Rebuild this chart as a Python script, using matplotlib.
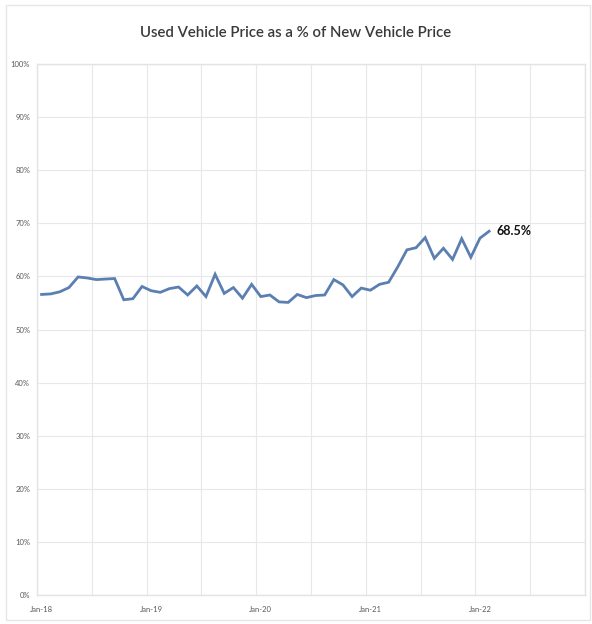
import matplotlib
matplotlib.use("Agg")
import matplotlib.pyplot as plt
import matplotlib.patches as mpatches
import numpy as np

plt.rcParams['font.family'] = ['Liberation Sans Narrow', 'Lato', 'DejaVu Sans']

# Monthly data Jan-2018 .. Feb-2022 (percent)
months = [f"{m}-{y}" for y in range(18, 23) for m in
          ["Jan", "Feb", "Mar", "Apr", "May", "Jun", "Jul", "Aug", "Sep", "Oct", "Nov", "Dec"]][:50]
values = [56.6, 56.7, 57.1, 57.9, 59.9, 59.7, 59.4, 59.5, 59.6, 55.6,
          55.8, 58.1, 57.3, 57.0, 57.7, 58.0, 56.5, 58.2, 56.2, 60.4,
          56.8, 57.9, 55.9, 58.5, 56.2, 56.5, 55.2, 55.1, 56.6, 56.0,
          56.4, 56.5, 59.4, 58.4, 56.2, 57.8, 57.4, 58.5, 58.9, 61.8,
          65.0, 65.4, 67.3, 63.4, 65.3, 63.2, 67.1, 63.6, 67.2, 68.5]
year_labels = ["Jan-18", "Jan-19", "Jan-20", "Jan-21", "Jan-22"]
y_ticks = list(range(0, 101, 10))
last_label = "68.5%"
title = "Used Vehicle Price as a % of New Vehicle Price"

W, H = 592, 624
fig = plt.figure(figsize=(W / 100, H / 100), dpi=100)

# outer chart-area frame
fig.patches.append(mpatches.Rectangle((6 / W, 1 - 620 / H), (590 - 6) / W, (620 - 5) / H,
                                      transform=fig.transFigure, fill=False,
                                      edgecolor="#e6e6e6", linewidth=1.0))

left, right, top, bottom = 37, 585, 64, 595
ax = fig.add_axes([left / W, 1 - bottom / H, (right - left) / W, (bottom - top) / H])

x = np.arange(len(values))
ax.plot(x, values, color="#5b7fb0", linewidth=2.0, solid_joinstyle="miter")

ax.set_xlim(-0.5, 59.5)
ax.set_ylim(0, 100)
ax.set_yticks(y_ticks)
ax.set_yticklabels([f"{v}%" for v in y_ticks])
ax.set_xticks(np.arange(-0.5, 60, 6), minor=False)
ax.set_xticklabels([])
ax.set_xticks(np.arange(0, 60, 12), minor=True)
ax.set_xticklabels(year_labels, minor=True)
ax.tick_params(axis="both", which="both", length=0, labelsize=5.5, colors="#595959")
ax.tick_params(axis="x", which="minor", pad=8)
ax.tick_params(axis="y", pad=5)
ax.grid(True, which="major", color="#e8e8e8", linewidth=0.8)
ax.set_axisbelow(True)
for s in ax.spines.values():
    s.set_color("#e3e3e3")
    s.set_linewidth(1.0)

ax.annotate(last_label, xy=(x[-1], values[-1]), xytext=(5, 0), textcoords="offset points",
            ha="left", va="center", fontsize=9, fontweight="bold", color="#111111")

fig.text(0.5, 1 - 33 / H, title, ha="center", va="center", fontsize=10.8,
         fontweight="semibold", color="#3a3a3a")

fig.savefig("out.png", dpi=100, facecolor="white")
